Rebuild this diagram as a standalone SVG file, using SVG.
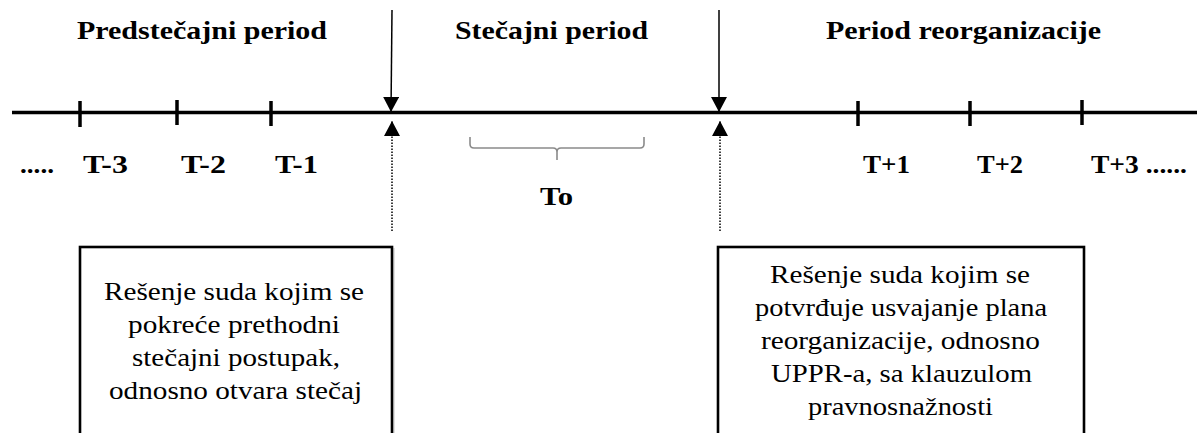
<svg xmlns="http://www.w3.org/2000/svg" width="1199" height="433" viewBox="0 0 1199 433" font-family="'Liberation Serif', 'Times New Roman', Times, serif">
  <defs>
    <style>
      .head { font-weight: bold; font-size: 25px; fill: #000; }
      .lbl { font-weight: bold; font-size: 25px; fill: #000; }
      .body { font-size: 26px; fill: #000; }
      .axis { stroke: #000; stroke-width: 3.5; fill: none; }
      .tick { stroke: #000; stroke-width: 3.5; fill: none; }
      .arrow { stroke: #000; stroke-width: 1.5; fill: none; }
      .dotted { stroke: #000; stroke-width: 1.5; stroke-dasharray: 1.5 1.5; fill: none; }
      .brace { stroke: #8a8a8a; stroke-width: 1.6; fill: none; }
      .box { stroke: #000; stroke-width: 2.6; fill: #fff; }
      .shade { stroke: #9a9a9a; stroke-width: 1; fill: none; }
    </style>
    <marker id="head" viewBox="0 0 15 16" markerWidth="15" markerHeight="16" refX="15" refY="8" orient="auto" markerUnits="userSpaceOnUse">
      <path d="M0,0 L15,8 L0,16 Z" fill="#000"/>
    </marker>
  </defs>

  <!-- period titles -->
  <g id="title-pre">
    <text class="head" x="77" y="39" textLength="250" lengthAdjust="spacingAndGlyphs">Predstečajni period</text>
  </g>
  <g id="title-bankruptcy">
    <text class="head" x="455" y="39" textLength="193" lengthAdjust="spacingAndGlyphs">Stečajni period</text>
  </g>
  <g id="title-reorg">
    <text class="head" x="826" y="39" textLength="275" lengthAdjust="spacingAndGlyphs">Period reorganizacije</text>
  </g>

  <!-- time axis with ticks -->
  <g id="timeline">
    <line class="axis" x1="12" y1="112.5" x2="1197" y2="112.5"/>
    <line class="tick" x1="80" y1="101" x2="80" y2="127"/>
    <line class="tick" x1="177" y1="100" x2="177" y2="125"/>
    <line class="tick" x1="271" y1="101" x2="271" y2="126"/>
    <line class="tick" x1="858" y1="101" x2="858" y2="126"/>
    <line class="tick" x1="970" y1="101" x2="970" y2="126"/>
    <line class="tick" x1="1082" y1="100" x2="1082" y2="125"/>
  </g>

  <!-- period labels -->
  <g id="labels">
    <text class="lbl" x="20" y="173" textLength="34" lengthAdjust="spacingAndGlyphs">.....</text>
    <text class="lbl" x="83" y="173" textLength="45" lengthAdjust="spacingAndGlyphs">T-3</text>
    <text class="lbl" x="181" y="173" textLength="45" lengthAdjust="spacingAndGlyphs">T-2</text>
    <text class="lbl" x="275" y="173" textLength="43" lengthAdjust="spacingAndGlyphs">T-1</text>
    <text class="lbl" x="863" y="173" textLength="47" lengthAdjust="spacingAndGlyphs">T+1</text>
    <text class="lbl" x="977" y="173" textLength="46" lengthAdjust="spacingAndGlyphs">T+2</text>
    <text class="lbl" x="1091" y="173" textLength="96" lengthAdjust="spacingAndGlyphs">T+3 ......</text>
  </g>

  <!-- bankruptcy span brace -->
  <g id="span-to">
    <path class="brace" d="M470,137 L470,144 Q470,148 474,148 L553,148 Q557,148 557,152 L557,160 M557,152 Q557,148 561,148 L640,148 Q644,148 644,144 L644,137"/>
    <text class="lbl" x="540" y="205" textLength="33" lengthAdjust="spacingAndGlyphs">To</text>
  </g>

  <!-- decision boxes -->
  <g id="box-opening">
    <rect class="box" x="80" y="247" width="312" height="200"/>
    <line class="shade" x1="393.8" y1="248" x2="393.8" y2="433"/>
    <text class="body" x="104" y="300" textLength="260" lengthAdjust="spacingAndGlyphs">Rešenje suda kojim se</text>
    <text class="body" x="128" y="333" textLength="212" lengthAdjust="spacingAndGlyphs">pokreće prethodni</text>
    <text class="body" x="132" y="366" textLength="208" lengthAdjust="spacingAndGlyphs">stečajni postupak,</text>
    <text class="body" x="109" y="399" textLength="253" lengthAdjust="spacingAndGlyphs">odnosno otvara stečaj</text>
  </g>
  <g id="box-confirmation">
    <rect class="box" x="718" y="247" width="366" height="200"/>
    <text class="body" x="770" y="283" textLength="260" lengthAdjust="spacingAndGlyphs">Rešenje suda kojim se</text>
    <text class="body" x="755" y="316" textLength="292" lengthAdjust="spacingAndGlyphs">potvrđuje usvajanje plana</text>
    <text class="body" x="761" y="349" textLength="279" lengthAdjust="spacingAndGlyphs">reorganizacije, odnosno</text>
    <text class="body" x="771" y="382" textLength="261" lengthAdjust="spacingAndGlyphs">UPPR-a, sa klauzulom</text>
    <text class="body" x="808" y="415" textLength="185" lengthAdjust="spacingAndGlyphs">pravnosnažnosti</text>
  </g>

  <!-- connectors: event arrows onto the axis and dotted links from the boxes -->
  <g id="connectors">
    <line class="arrow" x1="392" y1="10" x2="391" y2="112" marker-end="url(#head)"/>
    <line class="arrow" x1="719" y1="10" x2="719" y2="112" marker-end="url(#head)"/>
    <line class="dotted" x1="392" y1="231" x2="392" y2="121" marker-end="url(#head)"/>
    <line class="dotted" x1="720" y1="231" x2="720" y2="121" marker-end="url(#head)"/>
  </g>
</svg>
